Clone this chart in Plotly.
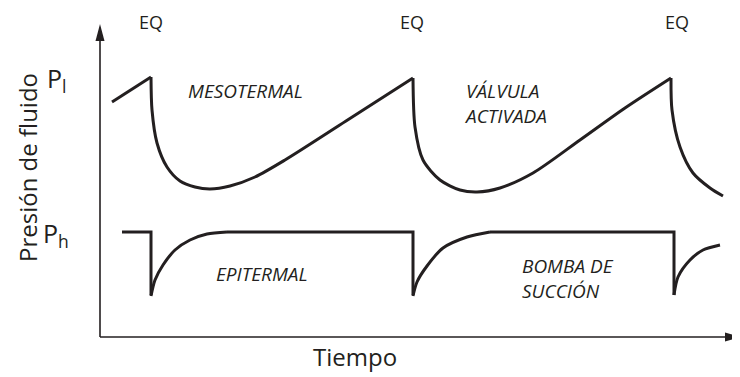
import plotly.graph_objects as go

# Page is offset by the browser's 8px body margin; the figure covers page pixels 8..740 x 8..377
W, H = 732, 369

# Upper curve (x = time, y = fluid pressure, arbitrary units)
up_start_t = [112, 151]
up_start_p = [275, 300]
up_c1_t = [151, 152, 157, 167, 180, 195, 210, 230, 255, 285, 346, 413]
up_c1_p = [300, 267, 234, 210, 196, 190, 188, 191, 200, 217, 256, 299]
up_c2_t = [413, 415, 423, 440, 460, 477, 500, 533, 580, 625, 671]
up_c2_p = [299, 250, 217, 197, 187, 185, 189, 204, 237, 269, 299]
up_c3_t = [671, 672, 680, 693, 710, 723]
up_c3_p = [299, 267, 230, 204, 189, 181]

# Lower curve
lo_flat_segments = [
    ([122, 151, 151], [145, 145, 82]),
    ([227, 413, 413], [145, 145, 82]),
    ([490, 674, 674], [145, 145, 82]),
]
lo_rec1_t = [151, 155, 163, 175, 190, 207, 227]
lo_rec1_p = [81, 97, 112, 127, 137, 143, 145]
lo_rec2_t = [413, 417, 427, 443, 467, 490]
lo_rec2_p = [81, 95, 111, 129, 140, 145]
lo_rec3_t = [674, 678, 690, 703, 720]
lo_rec3_p = [82, 100, 117, 127, 132]

eq_times = [151, 412, 677]

INK = "#231f20"
LINE = dict(color=INK, width=3)

fig = go.Figure()

def add(t, p, shape="linear"):
    fig.add_trace(go.Scatter(x=t, y=p, mode="lines", line=dict(LINE, shape=shape, smoothing=0.8),
                             hoverinfo="skip", showlegend=False))

add(up_start_t, up_start_p)
add(up_c1_t, up_c1_p, "spline")
add(up_c2_t, up_c2_p, "spline")
add(up_c3_t, up_c3_p, "spline")
for t, p in lo_flat_segments:
    add(t, p)
add(lo_rec1_t, lo_rec1_p, "spline")
add(lo_rec2_t, lo_rec2_p, "spline")
add(lo_rec3_t, lo_rec3_p, "spline")

# axes with arrowheads (shapes)
fig.add_shape(type="line", x0=100, y0=40, x1=100, y1=340, line=dict(color=INK, width=1.6))
fig.add_shape(type="line", x0=100, y0=40, x1=730, y1=40, line=dict(color=INK, width=1.6))
fig.add_shape(type="path", path="M 95.5 336 L 104.5 336 L 100 353 Z", fillcolor=INK, line=dict(width=0))
fig.add_shape(type="path", path="M 725 44.5 L 725 35.5 L 740 40 Z", fillcolor=INK, line=dict(width=0))

FONT = "Open Sans"

for t in eq_times:
    fig.add_annotation(x=t, y=355, text="EQ", showarrow=False, font=dict(family=FONT, size=18, color=INK))

fig.add_annotation(x=56, y=298, text="P<sub>l</sub>", showarrow=False, xanchor="center",
                   font=dict(family=FONT, size=25, color=INK))
fig.add_annotation(x=56, y=143, text="P<sub>h</sub>", showarrow=False, xanchor="center",
                   font=dict(family=FONT, size=25, color=INK))
fig.add_annotation(x=27, y=209, text="Presión de fluido", textangle=-90, showarrow=False,
                   font=dict(family=FONT, size=24, color=INK))
fig.add_annotation(x=355, y=21, text="Tiempo", showarrow=False,
                   font=dict(family=FONT, size=24, color=INK))

ital = dict(family=FONT, size=19, color=INK)
fig.add_annotation(x=245, y=286, text="<i>MESOTERMAL</i>", showarrow=False, font=ital)
fig.add_annotation(x=462, y=274, text="<i>VÁLVULA<br>ACTIVADA</i>", showarrow=False, font=ital,
                   xanchor="left", align="left")
fig.add_annotation(x=262, y=103, text="<i>EPITERMAL</i>", showarrow=False, font=ital)
fig.add_annotation(x=520, y=99, text="<i>BOMBA DE<br>SUCCIÓN</i>", showarrow=False, font=ital,
                   xanchor="left", align="left")

fig.update_layout(
    width=W, height=H, margin=dict(l=0, r=0, t=0, b=0),
    paper_bgcolor="white", plot_bgcolor="white",
    xaxis=dict(range=[8, 740], visible=False, fixedrange=True),
    yaxis=dict(range=[0, 369], visible=False, fixedrange=True),
)

fig.write_html("out.html")
